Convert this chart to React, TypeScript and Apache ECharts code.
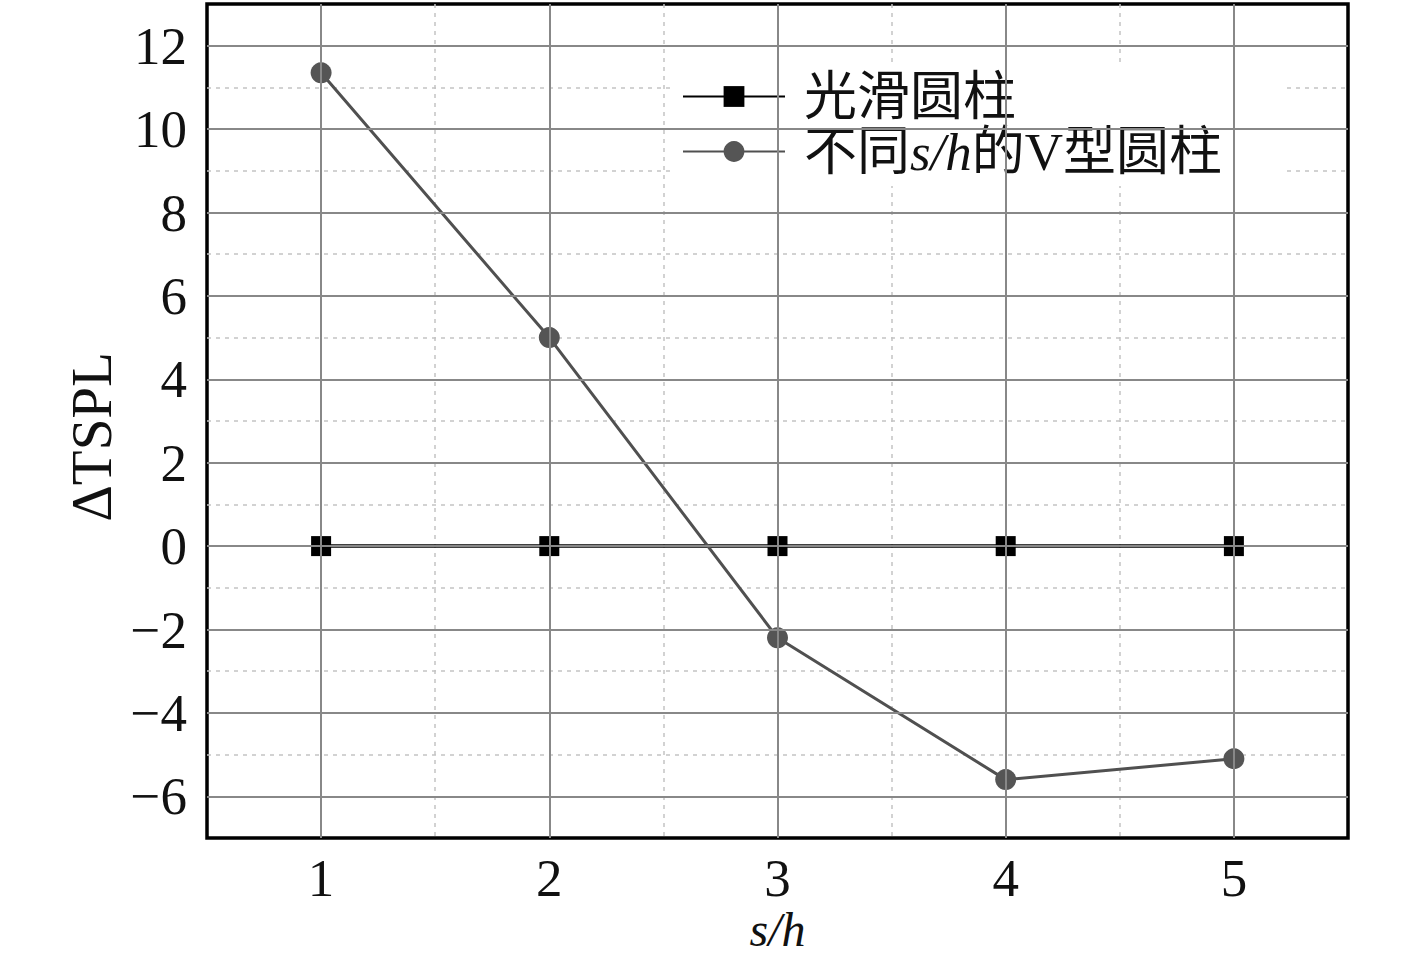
import React, { useEffect, useRef } from "react";
import * as echarts from "echarts";

const xValues = [1, 2, 3, 4, 5];
const smoothValues = [0, 0, 0, 0, 0];
const vValues = [11.35, 5.0, -2.2, -5.6, -5.1];
const yMajorTicks = [-6, -4, -2, 0, 2, 4, 6, 8, 10, 12];
const xMajorTicks = [1, 2, 3, 4, 5];
const seriesNames = ["光滑圆柱", "不同s/h的V型圆柱"];

const FONT = "'Liberation Serif', 'Times New Roman', 'Noto Sans CJK SC', serif";

export default function App() {
  const ref = useRef<HTMLDivElement>(null);
  useEffect(() => {
    if (!ref.current) return;
    const chart = echarts.init(ref.current, undefined, { renderer: "svg" });
    const gridLineData = [
      ...xMajorTicks.map((v) => ({ xAxis: v })),
      ...yMajorTicks.map((v) => ({ yAxis: v })),
    ];
    chart.setOption({
      animation: false,
      backgroundColor: "#fff",
      textStyle: { fontFamily: FONT },
      grid: {
        left: 207,
        right: 69,
        top: 4,
        bottom: 117,
        outerBoundsMode: "none",
        containLabel: false,
        show: true,
        borderColor: "#000",
        borderWidth: 3.5,
        backgroundColor: "transparent",
      },
      legend: {
        data: seriesNames,
        left: 672,
        top: 62,
        orient: "vertical",
        backgroundColor: "#fff",
        padding: [8, 60, 8, 10],
        itemWidth: 102,
        itemHeight: 26,
        itemGap: 2,
        selectedMode: false,
        textStyle: {
          fontFamily: FONT,
          fontSize: 53,
          color: "#111",
          padding: [0, 0, 0, 14],
          rich: {
            it: { fontFamily: FONT, fontSize: 53, fontStyle: "italic", color: "#111" },
            n: { fontFamily: FONT, fontSize: 53, color: "#111" },
          },
        },
        formatter: (name: string) => {
          if (name.includes("s/h")) {
            const parts = name.split("s/h");
            return `{n|${parts[0]}}{it|s/h}{n|${parts[1]}}`;
          }
          return name;
        },
      },
      xAxis: {
        type: "value",
        min: 0.5,
        max: 5.5,
        interval: 0.5,
        name: "s/h",
        nameLocation: "middle",
        nameGap: 67,
        nameMoveOverlap: false,
        nameTextStyle: { fontFamily: FONT, fontSize: 48, fontStyle: "italic", color: "#111" },
        axisLine: { show: false },
        axisTick: { show: false },
        axisLabel: {
          fontFamily: FONT,
          fontSize: 53,
          color: "#111",
          margin: 13,
          formatter: (v: number) => (Math.abs(v - Math.round(v)) < 1e-6 && xMajorTicks.includes(Math.round(v)) ? String(Math.round(v)) : ""),
        },
        splitLine: { show: true, showMinLine: false, showMaxLine: false, lineStyle: { color: "#c4c4c4", type: [4, 5], width: 1.5 } },
      },
      yAxis: {
        type: "value",
        min: -7,
        max: 13,
        interval: 1,
        name: "ΔTSPL",
        nameLocation: "middle",
        nameGap: 80,
        nameRotate: 90,
        nameTextStyle: { fontFamily: FONT, fontSize: 57, color: "#111", padding: [0, 32, 0, 0] },
        axisLine: { show: false },
        axisTick: { show: false },
        axisLabel: {
          fontFamily: FONT,
          fontSize: 53,
          color: "#111",
          margin: 20,
          formatter: (v: number) => (yMajorTicks.includes(Math.round(v)) && Math.abs(v - Math.round(v)) < 1e-6 ? (v < 0 ? "−" + Math.abs(v) : String(v)) : ""),
        },
        splitLine: { show: true, showMinLine: false, showMaxLine: false, lineStyle: { color: "#c4c4c4", type: [4, 5], width: 1.5 } },
      },
      series: [
        {
          name: "gridlines",
          type: "line",
          data: [],
          z: 1,
          silent: true,
          markLine: {
            silent: true,
            symbol: "none",
            label: { show: false },
            lineStyle: { color: "#888", type: "solid", width: 2 },
            emphasis: { disabled: true },
            data: gridLineData,
          },
        },
        {
          name: seriesNames[0],
          type: "line",
          data: xValues.map((x, i) => [x, smoothValues[i]]),
          symbol: "rect",
          symbolSize: 20,
          z: 3,
          lineStyle: { color: "#000", width: 3.5 },
          itemStyle: { color: "#000" },
        },
        {
          name: seriesNames[1],
          type: "line",
          data: xValues.map((x, i) => [x, vValues[i]]),
          symbol: "circle",
          symbolSize: 21,
          z: 4,
          lineStyle: { color: "#505050", width: 3 },
          itemStyle: { color: "#555" },
        },
      ],
    });
    return () => chart.dispose();
  }, []);
  return (
    <div
      ref={ref}
      style={{ position: "fixed", left: 0, top: 0, width: 1417, height: 955, background: "#fff" }}
    />
  );
}
